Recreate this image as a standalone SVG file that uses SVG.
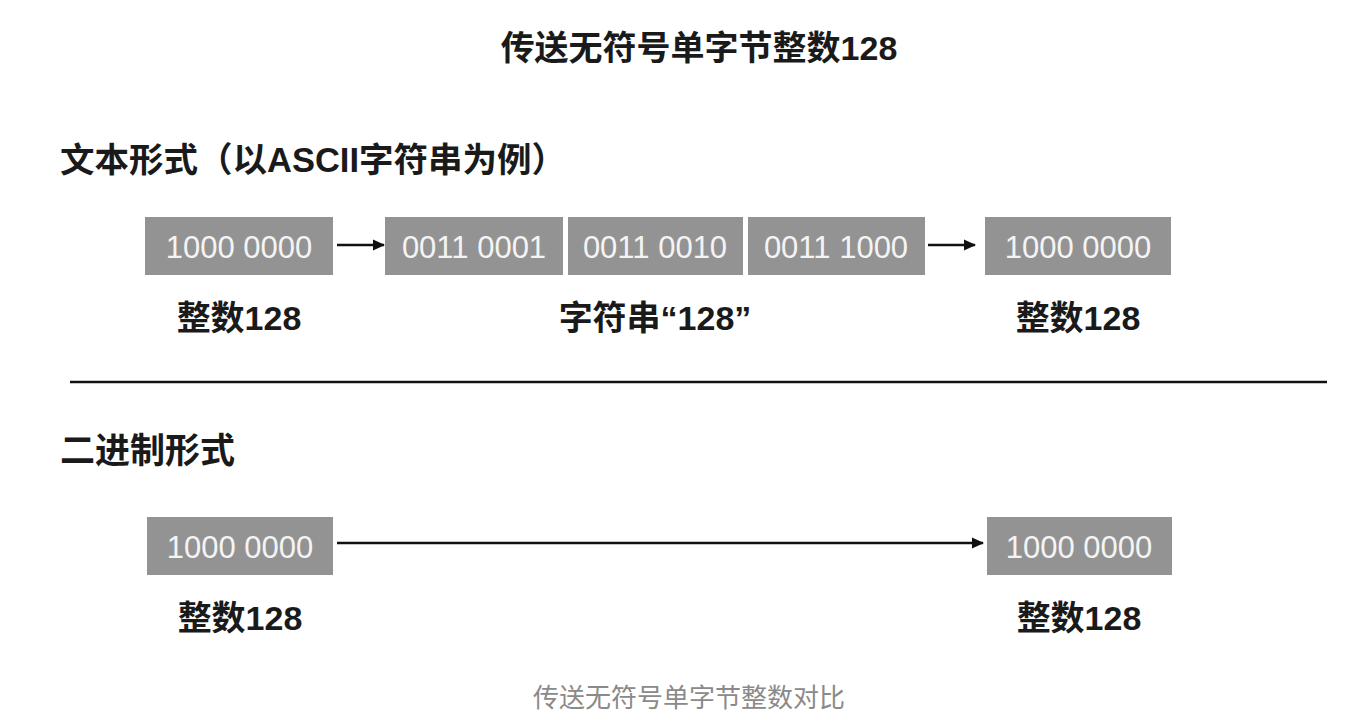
<svg xmlns="http://www.w3.org/2000/svg" width="1370" height="728" viewBox="0 0 1370 728">
<defs>
<marker id="ah" markerWidth="12" markerHeight="12" refX="11" refY="6" orient="auto" markerUnits="userSpaceOnUse"><path d="M0,0.5 L12,6 L0,11.5 z" fill="#111"/></marker>
<style>
.box{fill:#939393}
.bt{font-family:"Liberation Sans","Noto Sans",sans-serif;font-size:31px;fill:#f4f4f4;text-anchor:middle}
.lbl{font-family:"Liberation Sans","Noto Sans CJK SC",sans-serif;font-size:34px;font-weight:bold;fill:#1a1a1a;text-anchor:middle}
.hd{font-family:"Liberation Sans","Noto Sans CJK SC",sans-serif;font-size:35px;font-weight:bold;fill:#1a1a1a}
.cn{stroke:#111;stroke-width:2.5;fill:none;marker-end:url(#ah)}
</style>
</defs>
<rect width="1370" height="728" fill="#fff"/>
<text x="699" y="60" class="hd" text-anchor="middle" style="font-size:34px">传送无符号单字节整数128</text>
<text x="60" y="172" class="hd" style="font-size:34.5px">文本形式（以ASCII字符串为例）</text>
<line x1="70" y1="382" x2="1327" y2="382" stroke="#111" stroke-width="2.5"/>
<text x="60" y="463" class="hd">二进制形式</text>

<g id="n1"><rect class="box" x="145" y="217" width="188" height="58"/><text class="bt" x="239" y="258">1000 0000</text><text class="lbl" x="239" y="330">整数128</text></g>
<g id="n2"><rect class="box" x="385" y="217" width="178" height="58"/><text class="bt" x="474" y="258">0011 0001</text></g>
<g id="n3"><rect class="box" x="568" y="217" width="175" height="58"/><text class="bt" x="655" y="258">0011 0010</text><text class="lbl" x="655" y="330">字符串“128”</text></g>
<g id="n4"><rect class="box" x="748" y="217" width="177" height="58"/><text class="bt" x="836" y="258">0011 1000</text></g>
<g id="n5"><rect class="box" x="985" y="217" width="186" height="58"/><text class="bt" x="1078" y="258">1000 0000</text><text class="lbl" x="1078" y="330">整数128</text></g>
<g id="n6"><rect class="box" x="147" y="517" width="186" height="58"/><text class="bt" x="240" y="558">1000 0000</text><text class="lbl" x="240" y="630">整数128</text></g>
<g id="n7"><rect class="box" x="987" y="517" width="185" height="58"/><text class="bt" x="1079" y="558">1000 0000</text><text class="lbl" x="1079" y="630">整数128</text></g>

<g id="connectors">
<line class="cn" x1="337" y1="245" x2="384" y2="245"/>
<line class="cn" x1="928" y1="245" x2="975" y2="245"/>
<line class="cn" x1="337" y1="543" x2="983" y2="543"/>
</g>
<text x="689" y="707" text-anchor="middle" style="font-family:'Liberation Sans','Noto Sans CJK SC',sans-serif;font-size:26px;fill:#8a8a8a">传送无符号单字节整数对比</text>
</svg>
